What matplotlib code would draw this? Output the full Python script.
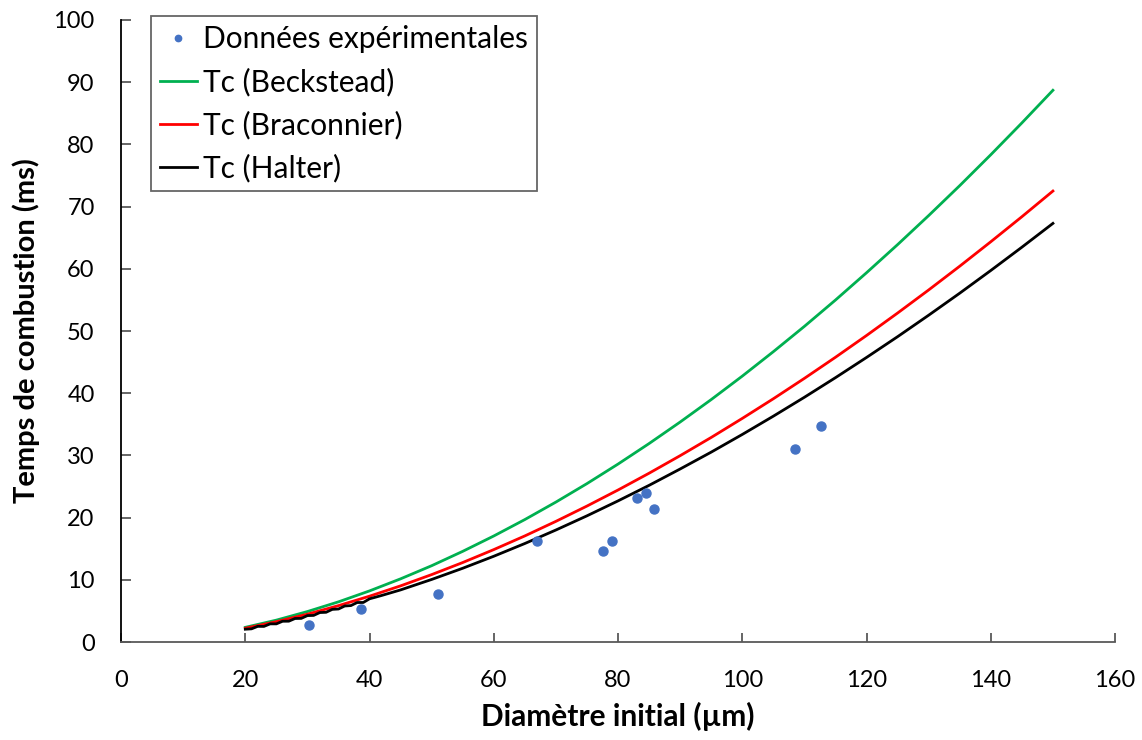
import matplotlib.pyplot as plt
import numpy as np

# experimental points
exp_d = [30.2, 38.6, 51.0, 67.0, 77.6, 79.0, 83.1, 84.5, 85.8, 108.5, 112.6]
exp_t = [2.7, 5.3, 7.8, 16.2, 14.7, 16.3, 23.1, 23.9, 21.4, 31.0, 34.7]

# model curves
d_model = [20, 25, 30, 35, 40, 45, 50, 55, 60, 65, 70, 75, 80, 85, 90, 95,
           100, 105, 110, 115, 120, 125, 130, 135, 140, 145, 150]
tc_beckstead = [2.36, 3.52, 4.90, 6.46, 8.22, 10.16, 12.27, 14.58, 17.05, 19.69, 22.50, 25.47, 28.61, 31.91,
                35.37, 38.98, 42.75, 46.68, 50.75, 54.98, 59.37, 63.89, 68.56, 73.37, 78.34, 83.45, 88.7]
tc_braconnier = [2.22, 3.27, 4.48, 5.85, 7.37, 9.03, 10.84, 12.78, 14.86, 17.06, 19.40, 21.86, 24.44, 27.14,
                 29.96, 32.89, 35.95, 39.11, 42.39, 45.78, 49.28, 52.89, 56.60, 60.42, 64.35, 68.37, 72.5]

# Halter curve is a bit bumpy at small diameters
d_halter = [20, 21, 22, 23, 24, 25, 26, 27, 28, 29, 30, 31, 32, 33, 34, 35, 36, 37, 38, 39, 40, 41, 42,
            45, 50, 55, 60, 65, 70, 75, 80, 85, 90, 95, 100, 105, 110, 115, 120, 125, 130, 135, 140, 145, 150]
tc_halter = [2.06, 2.12, 2.52, 2.51, 2.92, 2.92, 3.34, 3.35, 3.78, 3.80, 4.25, 4.28, 4.74, 4.78, 5.25, 5.31, 5.79, 5.86,
             6.35, 6.36, 6.95, 7.22, 7.50,
             8.38, 10.06, 11.86, 13.79, 15.84, 18.01, 20.29, 22.69, 25.19, 27.82, 30.53, 33.37, 36.31, 39.35,
             42.50, 45.75, 49.09, 52.54, 56.08, 59.73, 63.47, 67.3]

plt.rcParams['font.family'] = ['Lato', 'DejaVu Sans']

fig = plt.figure(figsize=(11.42, 7.40), dpi=100)
ax = fig.add_axes([0.106, 0.1324, 0.8704, 0.8406])

ax.plot(exp_d, exp_t, 'o', color='#4472C4', markersize=6.5, label='Données expérimentales', zorder=4)
ax.plot(d_model, tc_beckstead, color='#00B050', lw=2, label='Tc (Beckstead)')
ax.plot(d_model, tc_braconnier, color='#FF0000', lw=2, label='Tc (Braconnier)')
ax.plot(d_halter, tc_halter, color='black', lw=2, label='Tc (Halter)')

ax.set_xlim(0, 160)
ax.set_ylim(0, 100)
ax.set_xticks(np.arange(0, 161, 20))
ax.set_yticks(np.arange(0, 101, 10))

for s in ['top', 'right']:
    ax.spines[s].set_visible(False)
ax.spines['left'].set_color('black')
ax.spines['bottom'].set_color('#595959')
ax.spines['left'].set_linewidth(1.3)
ax.spines['bottom'].set_linewidth(1.3)

ax.tick_params(axis='x', direction='in', length=6.5, width=1.3, color='#595959', pad=20, labelsize=17)
ax.tick_params(axis='y', direction='in', length=7, width=1.3, color='#595959', pad=19, labelsize=17)

ax.set_xlabel('Diamètre initial (µm)', fontsize=21.5, fontweight='bold', labelpad=8)
ax.set_ylabel('Temps de combustion (ms)', fontsize=21, fontweight='bold', labelpad=10)

leg = ax.legend(loc='upper left', bbox_to_anchor=(0.03, 1.006), fontsize=21.5, frameon=True, fancybox=False,
                handlelength=1.25, handletextpad=0.2, borderpad=0.3, labelspacing=0.48, markerscale=0.7,
                borderaxespad=0)
leg.get_frame().set_edgecolor('#404040')
leg.get_frame().set_linewidth(1.3)

fig.savefig('out.png', dpi=100)
